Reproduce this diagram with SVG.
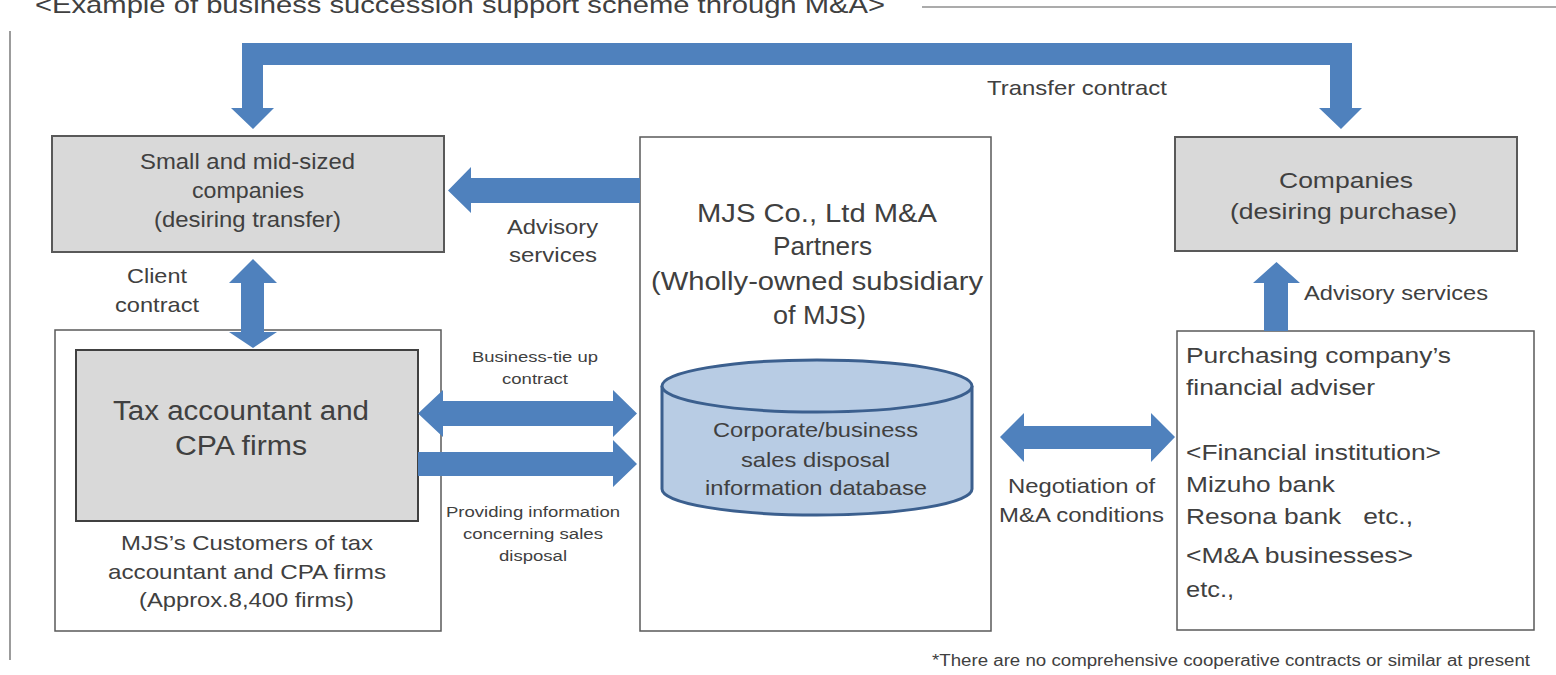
<svg xmlns="http://www.w3.org/2000/svg" width="1556" height="675" viewBox="0 0 1556 675">
  <style>
    text { font-family: "Liberation Sans", Arial, sans-serif; fill: #404040; }
    .mid { text-anchor: middle; }
    .grey { fill: #d9d9d9; stroke: #595959; stroke-width: 2; }
    .plain { fill: #ffffff; stroke: #595959; stroke-width: 1.5; }
    .arrow { fill: #4f81bd; stroke: none; }
    .rule { stroke: #595959; stroke-width: 1.2; fill: none; }
    .f15 { font-size: 15.5px; }
    .f21 { font-size: 21px; }
    .f22 { font-size: 22px; }
    .f26 { font-size: 26px; }
    .f27 { font-size: 27px; }
  </style>

  <rect width="1556" height="675" fill="#ffffff"/>

  <!-- heading and frame rules -->
  <g id="heading">
    <text x="35" y="13" font-size="24" textLength="850" lengthAdjust="spacingAndGlyphs">&lt;Example of business succession support scheme through M&amp;A&gt;</text>
    <line class="rule" x1="922" y1="7" x2="1556" y2="7"/>
    <line class="rule" x1="10" y1="31" x2="10" y2="660"/>
  </g>

  <g id="seller">
    <rect class="grey" x="52" y="136" width="392" height="116"/>
    <text class="f22" x="140" y="169" textLength="215" lengthAdjust="spacingAndGlyphs">Small and mid-sized</text>
    <text class="f22" x="192" y="198" textLength="112" lengthAdjust="spacingAndGlyphs">companies</text>
    <text class="f22" x="154" y="227" textLength="187" lengthAdjust="spacingAndGlyphs">(desiring transfer)</text>
  </g>

  <g id="customers">
    <rect class="plain" x="55" y="330" width="386" height="301"/>
    <text class="f21" x="121" y="550" textLength="252" lengthAdjust="spacingAndGlyphs">MJS’s Customers of tax</text>
    <text class="f21" x="108" y="579" textLength="278" lengthAdjust="spacingAndGlyphs">accountant and CPA firms</text>
    <text class="f21" x="139" y="607" textLength="215" lengthAdjust="spacingAndGlyphs">(Approx.8,400 firms)</text>
  </g>

  <g id="tax-firms">
    <rect x="76" y="350" width="342" height="171" fill="#d9d9d9" stroke="#404040" stroke-width="2"/>
    <text class="f27" x="113" y="420" textLength="256" lengthAdjust="spacingAndGlyphs">Tax accountant and</text>
    <text class="f27" x="175" y="455" textLength="132" lengthAdjust="spacingAndGlyphs">CPA firms</text>
  </g>

  <g id="mjs-partners">
    <rect class="plain" x="640" y="137" width="351" height="494"/>
    <text class="f26" x="697" y="222" textLength="240" lengthAdjust="spacingAndGlyphs">MJS Co., Ltd M&amp;A</text>
    <text class="f26" x="773" y="255" textLength="99" lengthAdjust="spacingAndGlyphs">Partners</text>
    <text class="f26" x="651" y="290" textLength="332" lengthAdjust="spacingAndGlyphs">(Wholly-owned subsidiary</text>
    <text class="f26" x="773" y="324" textLength="93" lengthAdjust="spacingAndGlyphs">of MJS)</text>
  </g>

  <g id="database">
    <path d="M662,386 V489 A155,26 0 0 0 972,489 V386" fill="#b8cce4" stroke="#3b5f8e" stroke-width="3"/>
    <ellipse cx="817" cy="386" rx="155" ry="26" fill="#b8cce4" stroke="#3b5f8e" stroke-width="3"/>
    <text class="f21" x="713" y="437" textLength="205" lengthAdjust="spacingAndGlyphs">Corporate/business</text>
    <text class="f21" x="741" y="467" textLength="149" lengthAdjust="spacingAndGlyphs">sales disposal</text>
    <text class="f21" x="705" y="495" textLength="222" lengthAdjust="spacingAndGlyphs">information database</text>
  </g>

  <g id="buyer">
    <rect class="grey" x="1175" y="137" width="342" height="114"/>
    <text class="f22" x="1279" y="188" textLength="134" lengthAdjust="spacingAndGlyphs">Companies</text>
    <text class="f22" x="1230" y="219" textLength="227" lengthAdjust="spacingAndGlyphs">(desiring purchase)</text>
  </g>

  <g id="buyer-adviser">
    <rect class="plain" x="1177" y="331" width="357" height="299"/>
    <text class="f22" x="1186" y="363" textLength="265" lengthAdjust="spacingAndGlyphs">Purchasing company’s</text>
    <text class="f22" x="1186" y="395" textLength="189" lengthAdjust="spacingAndGlyphs">financial adviser</text>
    <text class="f22" x="1186" y="460" textLength="255" lengthAdjust="spacingAndGlyphs">&lt;Financial institution&gt;</text>
    <text class="f22" x="1186" y="492" textLength="149" lengthAdjust="spacingAndGlyphs">Mizuho bank</text>
    <text class="f22" x="1186" y="524" textLength="227" lengthAdjust="spacingAndGlyphs" xml:space="preserve">Resona bank   etc.,</text>
    <text class="f22" x="1186" y="563" textLength="227" lengthAdjust="spacingAndGlyphs">&lt;M&amp;A businesses&gt;</text>
    <text class="f22" x="1186" y="597" textLength="48" lengthAdjust="spacingAndGlyphs">etc.,</text>
  </g>

  <!-- connectors -->
  <g id="connectors">
    <!-- transfer contract: bracket arrow across the top -->
    <path class="arrow" d="M242,43 H1352 V108 H1362 L1341,129 L1319,108 H1330 V65 H263 V108 H274 L253,129 L231,108 H242 Z"/>
    <!-- advisory services to transferring companies -->
    <path class="arrow" d="M640,178 V203 H471 V213 L448,190.5 L471,167 V178 Z"/>
    <!-- client contract (two-way, vertical) -->
    <path class="arrow" d="M253,259 L277,283 H264 V332 H277 L253,348 L229,332 H241 V283 H229 Z"/>
    <!-- business tie-up contract (two-way) -->
    <path class="arrow" d="M418,413.5 L443,390 V401 H613 V390 L637,413.5 L613,437 V426 H443 V437 Z"/>
    <!-- providing information -->
    <path class="arrow" d="M418,452 H613 V440 L637,464 L613,487 V476 H418 Z"/>
    <!-- negotiation of M&A conditions (two-way) -->
    <path class="arrow" d="M1000,437 L1024,413 V426 H1151 V413 L1175,437 L1151,462 V449 H1024 V462 Z"/>
    <!-- advisory services to purchasing companies -->
    <path class="arrow" d="M1264,331 V283 H1253 L1276.5,262 L1300,283 H1288 V331 Z"/>
  </g>

  <!-- connector labels -->
  <g id="labels">
    <text class="f21" x="987" y="95" textLength="180" lengthAdjust="spacingAndGlyphs">Transfer contract</text>
    <text class="f21" x="507" y="234" textLength="91" lengthAdjust="spacingAndGlyphs">Advisory</text>
    <text class="f21" x="509" y="262" textLength="88" lengthAdjust="spacingAndGlyphs">services</text>
    <text class="f21" x="127" y="283" textLength="60" lengthAdjust="spacingAndGlyphs">Client</text>
    <text class="f21" x="115" y="312" textLength="84" lengthAdjust="spacingAndGlyphs">contract</text>
    <text class="f15" x="472" y="362" textLength="126" lengthAdjust="spacingAndGlyphs">Business-tie up</text>
    <text class="f15" x="502" y="384" textLength="66" lengthAdjust="spacingAndGlyphs">contract</text>
    <text class="f15" x="446" y="517" textLength="174" lengthAdjust="spacingAndGlyphs">Providing information</text>
    <text class="f15" x="463" y="539" textLength="140" lengthAdjust="spacingAndGlyphs">concerning sales</text>
    <text class="f15" x="499" y="561" textLength="68" lengthAdjust="spacingAndGlyphs">disposal</text>
    <text class="f21" x="1008" y="493" textLength="147" lengthAdjust="spacingAndGlyphs">Negotiation of</text>
    <text class="f21" x="999" y="522" textLength="165" lengthAdjust="spacingAndGlyphs">M&amp;A conditions</text>
    <text class="f21" x="1304" y="300" textLength="184" lengthAdjust="spacingAndGlyphs">Advisory services</text>
  </g>

  <g id="footnote">
    <text x="932" y="666" font-size="16" textLength="598" lengthAdjust="spacingAndGlyphs">*There are no comprehensive cooperative contracts or similar at present</text>
  </g>
</svg>
